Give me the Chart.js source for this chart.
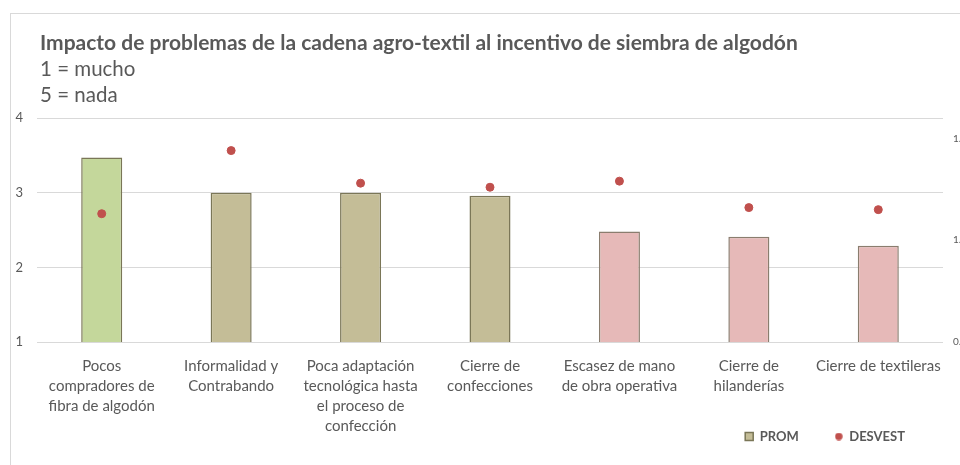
<!DOCTYPE html>
<html>
<head>
<meta charset="utf-8">
<title>Impacto de problemas de la cadena agro-textil</title>
<script src="https://cdn.jsdelivr.net/npm/chart.js@4.4.1/dist/chart.umd.min.js"></script>
<style>
  html, body { margin: 0; padding: 0; background: #fff; overflow: hidden; }
  body { width: 960px; height: 465px; position: relative; font-family: Lato, "Open Sans", sans-serif; }
  #frameTop { position: absolute; left: 10px; top: 13px; width: 960px; height: 1px; background: #d9d9d9; }
  #frameLeft { position: absolute; left: 10px; top: 13px; width: 1px; height: 460px; background: #d9d9d9; }
  #chartBox { position: absolute; left: 10px; top: 13px; width: 970px; height: 452px; }
  .head { position: absolute; left: 40px; color: #595959; white-space: nowrap; line-height: 1; }
  #t1 { top: 31px; font-size: 21px; font-weight: bold; }
  #t2 { top: 58px; font-size: 20.5px; }
  #t3 { top: 84px; font-size: 20.5px; }
</style>
</head>
<body>
<div id="frameTop"></div>
<div id="frameLeft"></div>
<div id="chartBox"><canvas id="chart"></canvas></div>
<div class="head" id="t1">Impacto de problemas de la cadena agro-textil al incentivo de siembra de algodón</div>
<div class="head" id="t2">1 = mucho</div>
<div class="head" id="t3">5 = nada</div>
<script>
const categories = [
    ['Pocos', 'compradores de', 'fibra de algodón'],
    ['Informalidad y', 'Contrabando'],
    ['Poca adaptación', 'tecnológica hasta', 'el proceso de', 'confección'],
    ['Cierre de', 'confecciones'],
    ['Escasez de mano', 'de obra operativa'],
    ['Cierre de', 'hilanderías'],
    ['Cierre de textileras']
];
const promValues = [3.47, 3.0, 3.0, 2.96, 2.48, 2.41, 2.29];
const desvestValues = [1.13, 1.44, 1.28, 1.26, 1.29, 1.16, 1.15];
const barColors = ['#C4D79B', '#C4BD97', '#C4BD97', '#C4BD97', '#E6B9B8', '#E6B9B8', '#E6B9B8'];
const barBorders = ['#7A7657', '#7A7657', '#7A7657', '#7A7657', '#8A7D6E', '#8A7D6E', '#8A7D6E'];
const leftTicks = { min: 1, max: 4, step: 1 };
const rightTicks = { min: 0.5, max: 1.6, step: 0.5 };

const textColor = '#595959';
const gridColor = '#D9D9D9';
const dotColor = '#C0504D';
const fontFamily = 'Lato, "Open Sans", sans-serif';
const legendGap = 36;

// small dot for the legend, the default circle gets too big next to the square
const legendDot = document.createElement('canvas');
legendDot.width = 8;
legendDot.height = 8;
const dotCtx = legendDot.getContext('2d');
dotCtx.fillStyle = dotColor;
dotCtx.beginPath();
dotCtx.arc(4, 4, 3.7, 0, Math.PI * 2);
dotCtx.fill();

// legend sits in the lower right corner, next to the last line of the long labels
const legendPlacement = {
    id: 'legendPlacement',
    afterLayout(chart) {
        const legend = chart.legend;
        legend.top = 381;
        legend.bottom = legend.top + 2 * legendGap + 30;
        legend.height = legend.bottom - legend.top;
        legend.right = 895 + legendGap;
    }
};

new Chart(document.getElementById('chart'), {
    data: {
        labels: categories,
        datasets: [
            {
                type: 'line',
                label: 'DESVEST',
                data: desvestValues,
                yAxisID: 'y1',
                showLine: false,
                pointStyle: 'circle',
                pointRadius: 4,
                pointBackgroundColor: dotColor,
                pointBorderColor: dotColor,
                backgroundColor: dotColor,
                borderColor: dotColor
            },
            {
                type: 'bar',
                label: 'PROM',
                data: promValues,
                yAxisID: 'y',
                backgroundColor: barColors,
                borderColor: barBorders,
                borderWidth: 1.5,
                pointStyle: 'rect',
                categoryPercentage: 1,
                barPercentage: 0.317
            }
        ]
    },
    plugins: [legendPlacement],
    options: {
        responsive: true,
        maintainAspectRatio: false,
        animation: false,
        layout: { padding: { left: 0, right: 0, top: 105, bottom: 8 } },
        plugins: {
            title: { display: false },
            tooltip: { enabled: false },
            legend: {
                position: 'bottom',
                align: 'end',
                maxHeight: 20,
                labels: {
                    usePointStyle: true,
                    boxWidth: 8,
                    boxHeight: 8,
                    padding: legendGap,
                    color: textColor,
                    font: { family: fontFamily, size: 13, weight: 'bold' },
                    sort: (a, b) => b.datasetIndex - a.datasetIndex,
                    generateLabels: (chart) => {
                        const items = Chart.defaults.plugins.legend.labels.generateLabels(chart);
                        items.forEach(item => {
                            if (item.text === 'PROM') {
                                item.fillStyle = '#C4BD97';
                                item.strokeStyle = '#7A7657';
                                item.lineWidth = 1.5;
                            } else {
                                item.pointStyle = legendDot;
                            }
                        });
                        return items;
                    }
                }
            }
        },
        scales: {
            x: {
                grid: { display: false },
                border: { display: false },
                ticks: {
                    color: textColor,
                    font: { family: fontFamily, size: 15, lineHeight: 1.34 },
                    padding: 6,
                    autoSkip: false,
                    maxRotation: 0,
                    minRotation: 0
                },
                afterFit: (scale) => { scale.height = 95; }
            },
            y: {
                position: 'left',
                min: leftTicks.min,
                max: leftTicks.max,
                grid: { color: gridColor, lineWidth: 1, drawTicks: false },
                border: { display: false },
                ticks: {
                    stepSize: leftTicks.step,
                    color: textColor,
                    padding: 14,
                    font: { family: fontFamily, size: 13 }
                },
                afterFit: (scale) => { scale.width = 27; }
            },
            y1: {
                position: 'right',
                min: rightTicks.min,
                max: rightTicks.max,
                grid: { drawOnChartArea: false, drawTicks: false },
                border: { display: false },
                ticks: {
                    stepSize: rightTicks.step,
                    includeBounds: false,
                    color: textColor,
                    padding: 10,
                    font: { family: fontFamily, size: 10 },
                    callback: (v) => v.toFixed(1)
                },
                afterFit: (scale) => { scale.width = 37; }
            }
        }
    }
});
</script>
</body>
</html>
